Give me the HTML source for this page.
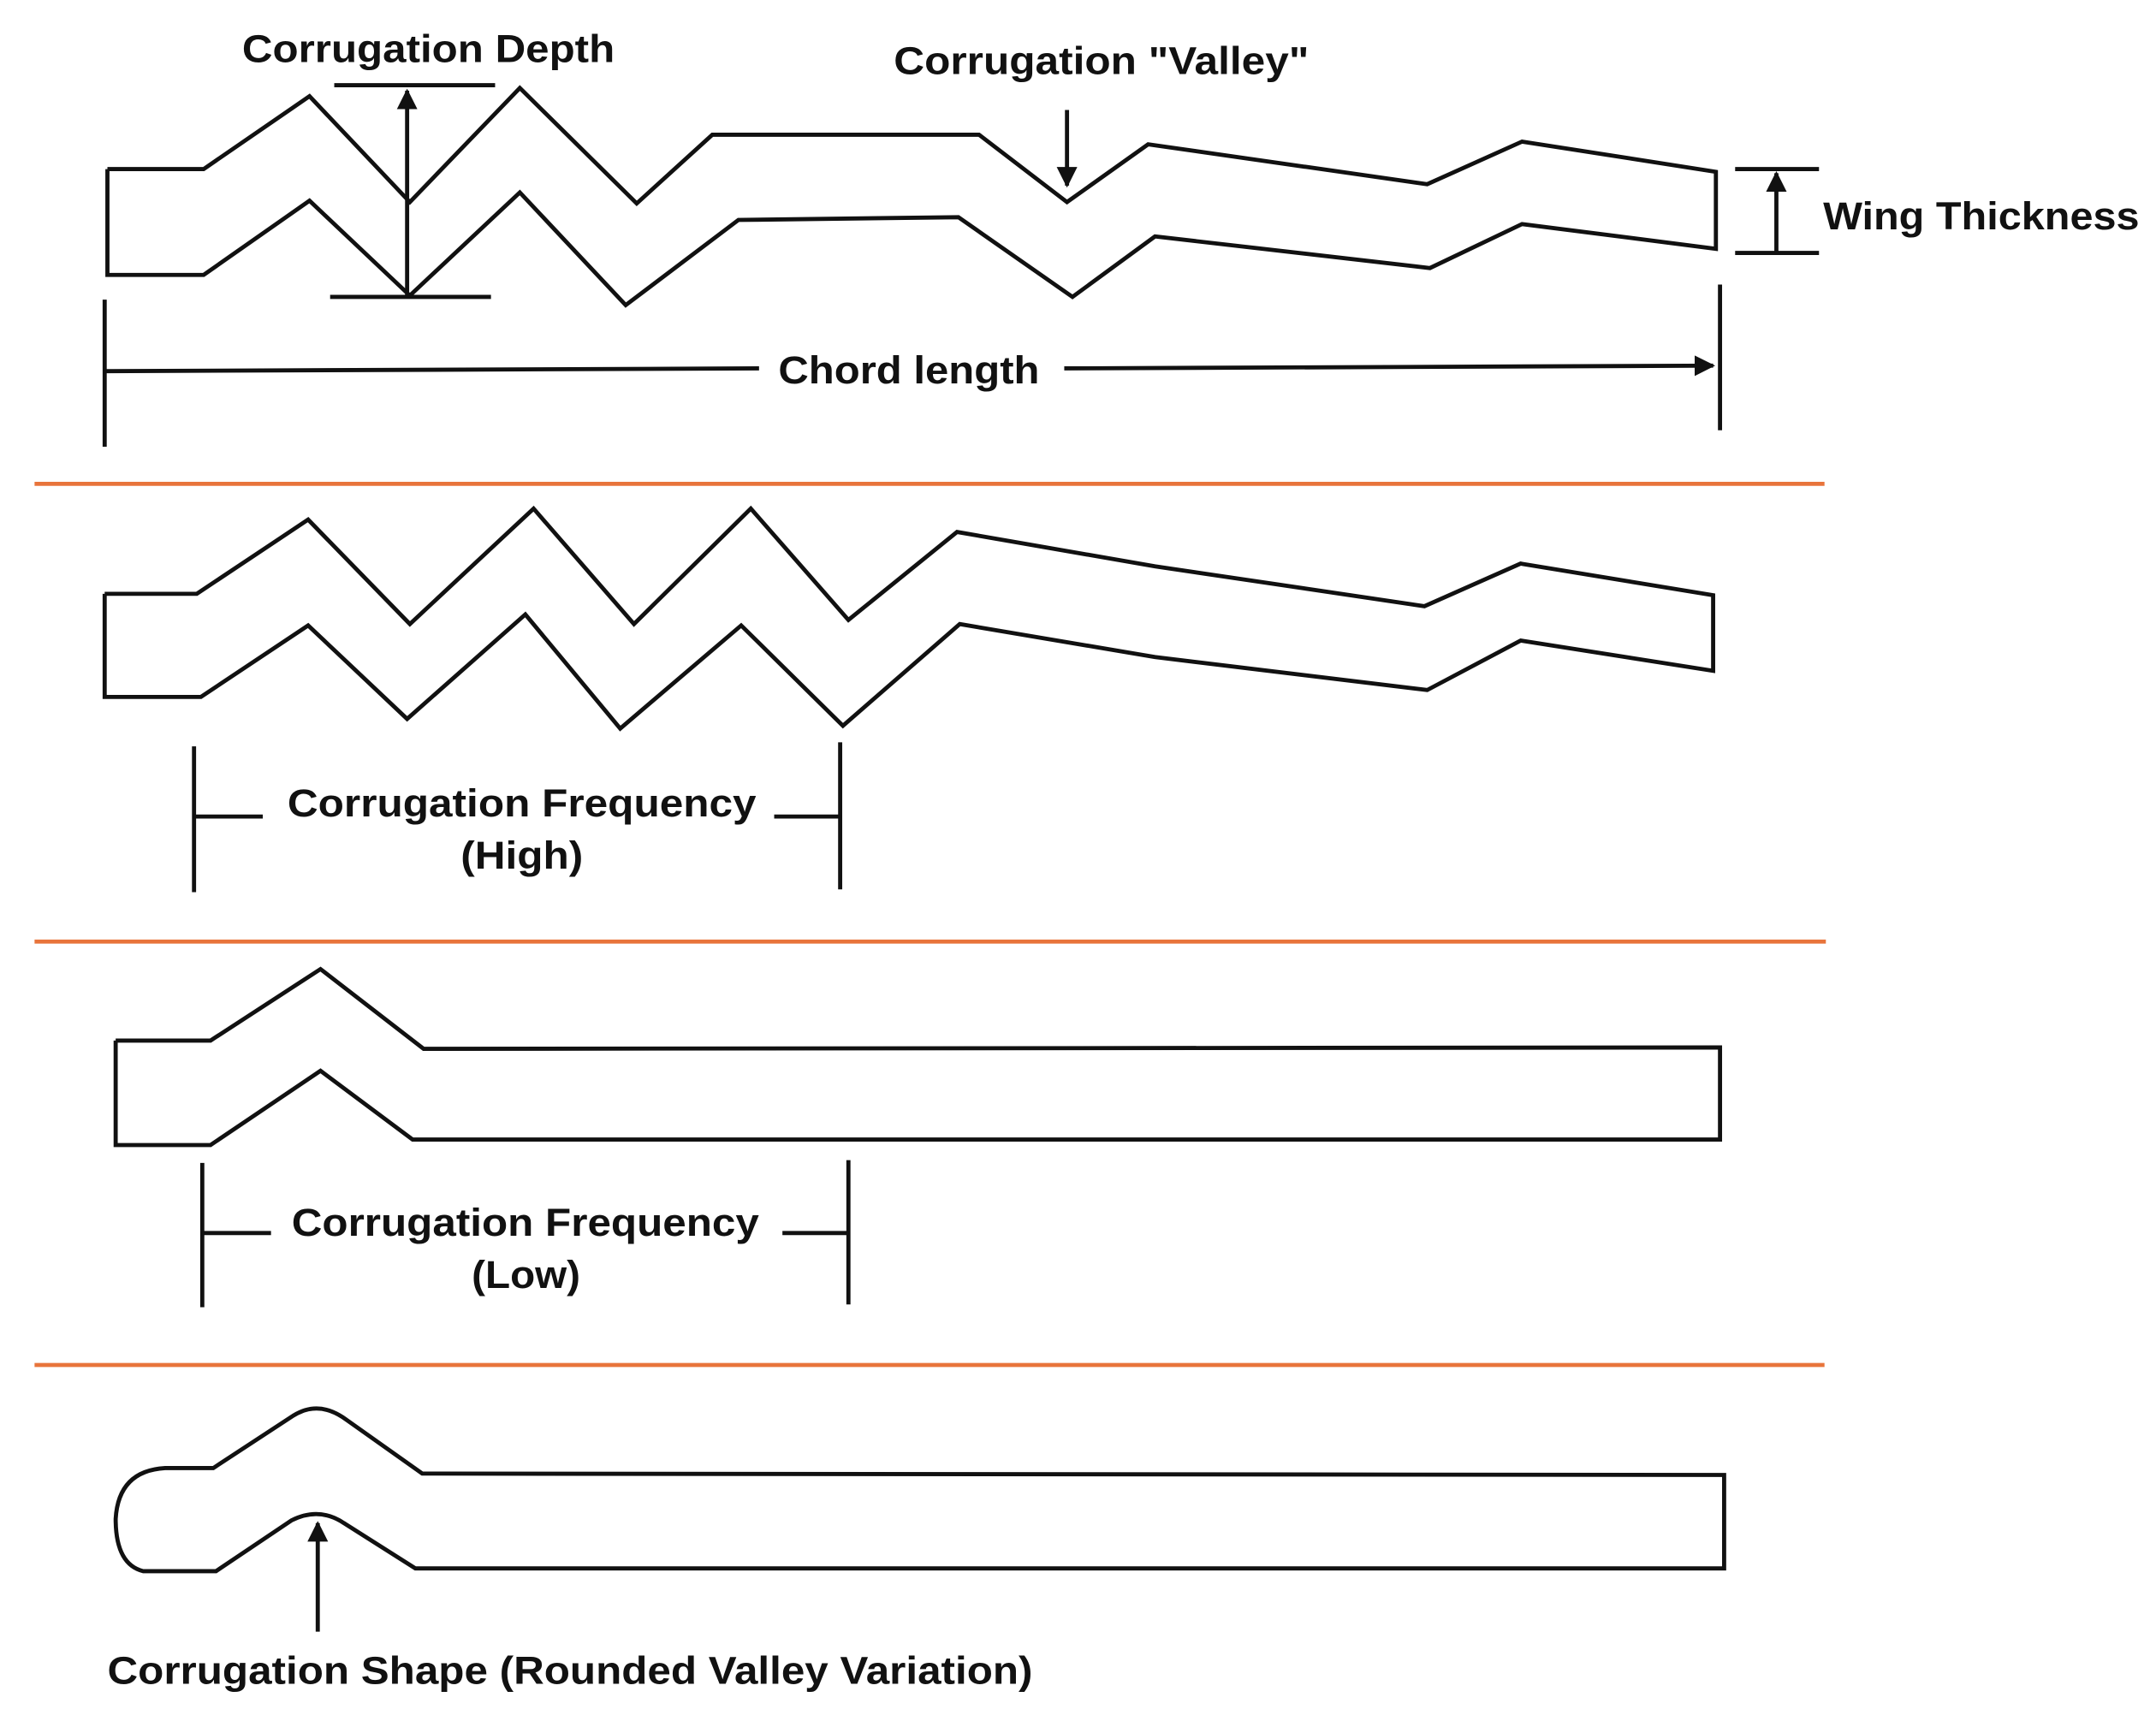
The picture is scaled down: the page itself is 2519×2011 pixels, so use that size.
<!DOCTYPE html>
<html><head><meta charset="utf-8"><style>
html,body{margin:0;padding:0;background:#fff;}
svg{display:block;}
text{font-family:"Liberation Sans",Arial,sans-serif;font-weight:bold;font-size:28px;fill:#111;}
</style></head><body>
<svg width="2519" height="2011" viewBox="0 0 1568 1252" xmlns="http://www.w3.org/2000/svg">
<defs>
<marker id="ah" viewBox="0 0 10 10" refX="9" refY="5" markerWidth="5" markerHeight="5" orient="auto-start-reverse">
<path d="M0,0 L10,5 L0,10 z" fill="#111"/></marker>
</defs>
<g fill="none" stroke="#111" stroke-width="3" stroke-linejoin="miter">
<!-- Panel 1 -->
<polyline points="78,123 148,123 225,70 298,147 378,64 463,148 518,98 712,98 776,147 835,105 1038,134 1107,103 1248,125 1248,181 1107,163 1040,195 840,172 780,216 697,158 537,160 455,222 378,140 298,215 225,146 148,200 78,200 78,123"/>
<line x1="243" y1="62" x2="360" y2="62"/>
<line x1="240" y1="216" x2="357" y2="216"/>
<line x1="296" y1="216" x2="296" y2="66" marker-end="url(#ah)"/>
<line x1="776" y1="80" x2="776" y2="135" marker-end="url(#ah)"/>
<line x1="1262" y1="123" x2="1323" y2="123"/>
<line x1="1262" y1="184" x2="1323" y2="184"/>
<line x1="1292" y1="184" x2="1292" y2="126" marker-end="url(#ah)"/>
<line x1="76" y1="218" x2="76" y2="325"/>
<line x1="1251" y1="207" x2="1251" y2="313"/>
<line x1="76" y1="270" x2="552" y2="268"/>
<line x1="774" y1="268" x2="1246" y2="266" marker-end="url(#ah)"/>
<!-- Panel 2 -->
<polyline points="76,432 143,432 224,378 298,454 388,370 461,454 546,370 617,451 696,387 840,412 1036,441 1106,410 1246,433 1246,488 1106,466 1038,502 840,478 698,454 613,528 539,455 451,530 382,447 296,523 224,455 146,507 76,507 76,432"/>
<line x1="141" y1="543" x2="141" y2="649"/>
<line x1="141" y1="594" x2="191" y2="594"/>
<line x1="611" y1="540" x2="611" y2="647"/>
<line x1="563" y1="594" x2="611" y2="594"/>
<!-- Panel 3 -->
<polyline points="84,757 153,757 233,705 308,763 1251,762 1251,829 300,829 233,779 153,833 84,833 84,757"/>
<line x1="147" y1="846" x2="147" y2="951"/>
<line x1="147" y1="897" x2="197" y2="897"/>
<line x1="617" y1="844" x2="617" y2="949"/>
<line x1="569" y1="897" x2="617" y2="897"/>
<!-- Panel 4 -->
<path d="M155,1068 L213,1030 Q232,1018 252,1033 L307,1072 L1254,1073 L1254,1141 L302,1141 L250,1108 Q232,1096 212,1106 L157,1143 L104,1143 Q84,1138 84,1105 Q86,1070 120,1068 Z"/>
<line x1="231" y1="1187" x2="231" y2="1108" marker-end="url(#ah)"/>
</g>
<g stroke="#e8743b" stroke-width="3">
<line x1="25" y1="352" x2="1327" y2="352"/>
<line x1="25" y1="685" x2="1328" y2="685"/>
<line x1="25" y1="993" x2="1327" y2="993"/>
</g>
<text x="176" y="45" textLength="271" lengthAdjust="spacingAndGlyphs">Corrugation Depth</text>
<text x="650" y="54" textLength="302" lengthAdjust="spacingAndGlyphs">Corrugation "Valley"</text>
<text x="1326" y="167" textLength="230" lengthAdjust="spacingAndGlyphs">Wing Thickness</text>
<text x="566" y="279" textLength="190" lengthAdjust="spacingAndGlyphs">Chord length</text>
<text x="209" y="594" textLength="341" lengthAdjust="spacingAndGlyphs">Corrugation Frequency</text>
<text x="335" y="632" textLength="89" lengthAdjust="spacingAndGlyphs">(High)</text>
<text x="212" y="899" textLength="340" lengthAdjust="spacingAndGlyphs">Corrugation Frequency</text>
<text x="343" y="937" textLength="79" lengthAdjust="spacingAndGlyphs">(Low)</text>
<text x="78" y="1225" textLength="673" lengthAdjust="spacingAndGlyphs">Corrugation Shape (Rounded Valley Variation)</text>
</svg>
</body></html>
